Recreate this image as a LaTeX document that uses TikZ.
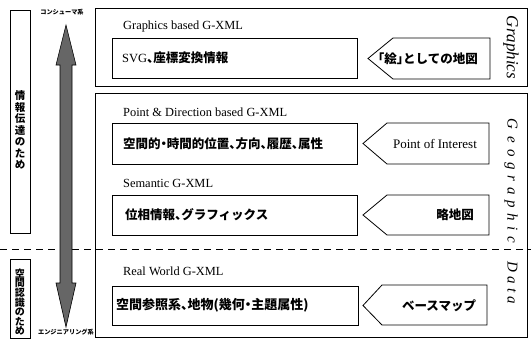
\documentclass[tikz,border=0pt]{standalone}
\usepackage{fontspec}
\setmainfont{Liberation Serif}
\newfontfamily\jp{Noto Sans CJK JP}[RawFeature=+halt]
\begin{document}
\begin{tikzpicture}[x=1pt,y=-1pt,
  frame/.style={draw, line width=0.8pt, inner sep=0pt, anchor=north west},
  inbox/.style={draw, line width=0.8pt, inner sep=0pt, anchor=north west},
  tagshape/.style={draw, line width=0.8pt},
  head/.style={anchor=west, inner sep=0pt, font=\fontsize{12.4}{14}\selectfont},
  jtxt/.style={anchor=west, inner sep=0pt, font=\jp\bfseries\fontsize{12.5}{14}\selectfont},
  tagtxt/.style={inner sep=0pt, font=\jp\bfseries\fontsize{12.5}{14}\selectfont},
  vlabel/.style={inner sep=0pt, align=center},
  small/.style={inner sep=0pt, font=\jp\bfseries\fontsize{6.2}{7}\selectfont},
  side/.style={inner sep=0pt, rotate=-90, font=\itshape\fontsize{15}{16}\selectfont}
]
\useasboundingbox (0,0) rectangle (531,340);
\fill[white] (0,0) rectangle (531,340);

% dashed separator
\coordinate (dl) at (0,249);
\coordinate (dr) at (531,249);
\draw[line width=0.9pt, dash pattern=on 7pt off 5pt] (dl) -- (dr);

% left label boxes
\node[frame, minimum width=20pt, minimum height=223pt] (lb1) at (10,10) {};
\node[vlabel, font=\jp\bfseries\fontsize{10.5}{11.5}\selectfont] (lt1) at (20,130) {情\\報\\伝\\達\\の\\た\\め};
\node[frame, minimum width=20pt, minimum height=79pt] (lb2) at (10,259) {};
\node[vlabel, font=\jp\bfseries\fontsize{10}{9.3}\selectfont] (lt2) at (20,302) {空\\間\\認\\識\\の\\た\\め};

% double arrow
\draw[line width=0.6pt, fill=black!60]
  (66,25) -- (76,65) -- (72,65) -- (72,283) -- (76,283) -- (66,327)
  -- (56,283) -- (60,283) -- (60,65) -- (56,65) -- cycle;
\node[small] (cons) at (62,12.5) {コンシューマ系};
\node[small] (eng) at (66,332) {エンジニアリング系};

% outer frames
\node[frame, minimum width=432pt, minimum height=78pt] (gbox) at (95,8) {};
\node[frame, minimum width=432pt, minimum height=244pt] (geobox) at (95,93) {};

% Graphics section
\node[head] (h1) at (123,27) {Graphics based G-XML};
\node[inbox, minimum width=245pt, minimum height=40pt] (b1) at (112,38) {};
\node[jtxt] (t1) at (122,58) {{\rmfamily\mdseries SVG}、座標変換情報};
\draw[tagshape] (368,58.5) -- (393,38) -- (490,38) -- (490,79) -- (393,79) -- cycle;
\node[tagtxt] (p1) at (428,58.5) {「絵」としての地図};

% Point & Direction
\node[head] (h2) at (123,112) {Point \& Direction based G-XML};
\node[inbox, minimum width=245pt, minimum height=41pt] (b2) at (112,123) {};
\node[jtxt] (t2) at (123,143.5) {空間的・時間的位置、方向、履歴、属性};
\draw[tagshape] (363,143.5) -- (387,123) -- (489,123) -- (489,164) -- (387,164) -- cycle;
\node[inner sep=0pt, font=\fontsize{13}{14}\selectfont] (p2) at (435,143.5) {Point of Interest};

% Semantic
\node[head] (h3) at (123,183) {Semantic G-XML};
\node[inbox, minimum width=245pt, minimum height=40pt] (b3) at (112,195) {};
\node[jtxt] (t3) at (125,215) {位相情報、グラフィックス};
\draw[tagshape] (363,215) -- (387,195) -- (489,195) -- (489,235) -- (387,235) -- cycle;
\node[tagtxt, anchor=east] (p3) at (474,215) {略地図};

% Real World
\node[head] (h4) at (123,271) {Real World G-XML};
\node[inbox, minimum width=246pt, minimum height=39pt] (b4) at (112,286) {};
\node[jtxt, font=\jp\bfseries\fontsize{13}{14}\selectfont] (t4) at (116,305.5) {空間参照系、地物(幾何・主題属性)};
\draw[tagshape] (363,305.5) -- (382,285) -- (487,285) -- (487,325) -- (382,325) -- cycle;
\node[tagtxt] (p4) at (439,305.5) {ベースマップ};

% side labels
\node[side, font=\itshape\fontsize{17}{18}\selectfont] (gr) at (511,47.5) {Graphics};
\foreach \ch/\yy [count=\i] in {G/124,e/140,o/153,g/166,r/178,a/191,p/204,h/217,i/229,c/240,D/267,a/280,t/291,a/300}
  \node[side] (gd\i) at (511,\yy) {\ch\vphantom{Gg}};
\end{tikzpicture}
\end{document}
